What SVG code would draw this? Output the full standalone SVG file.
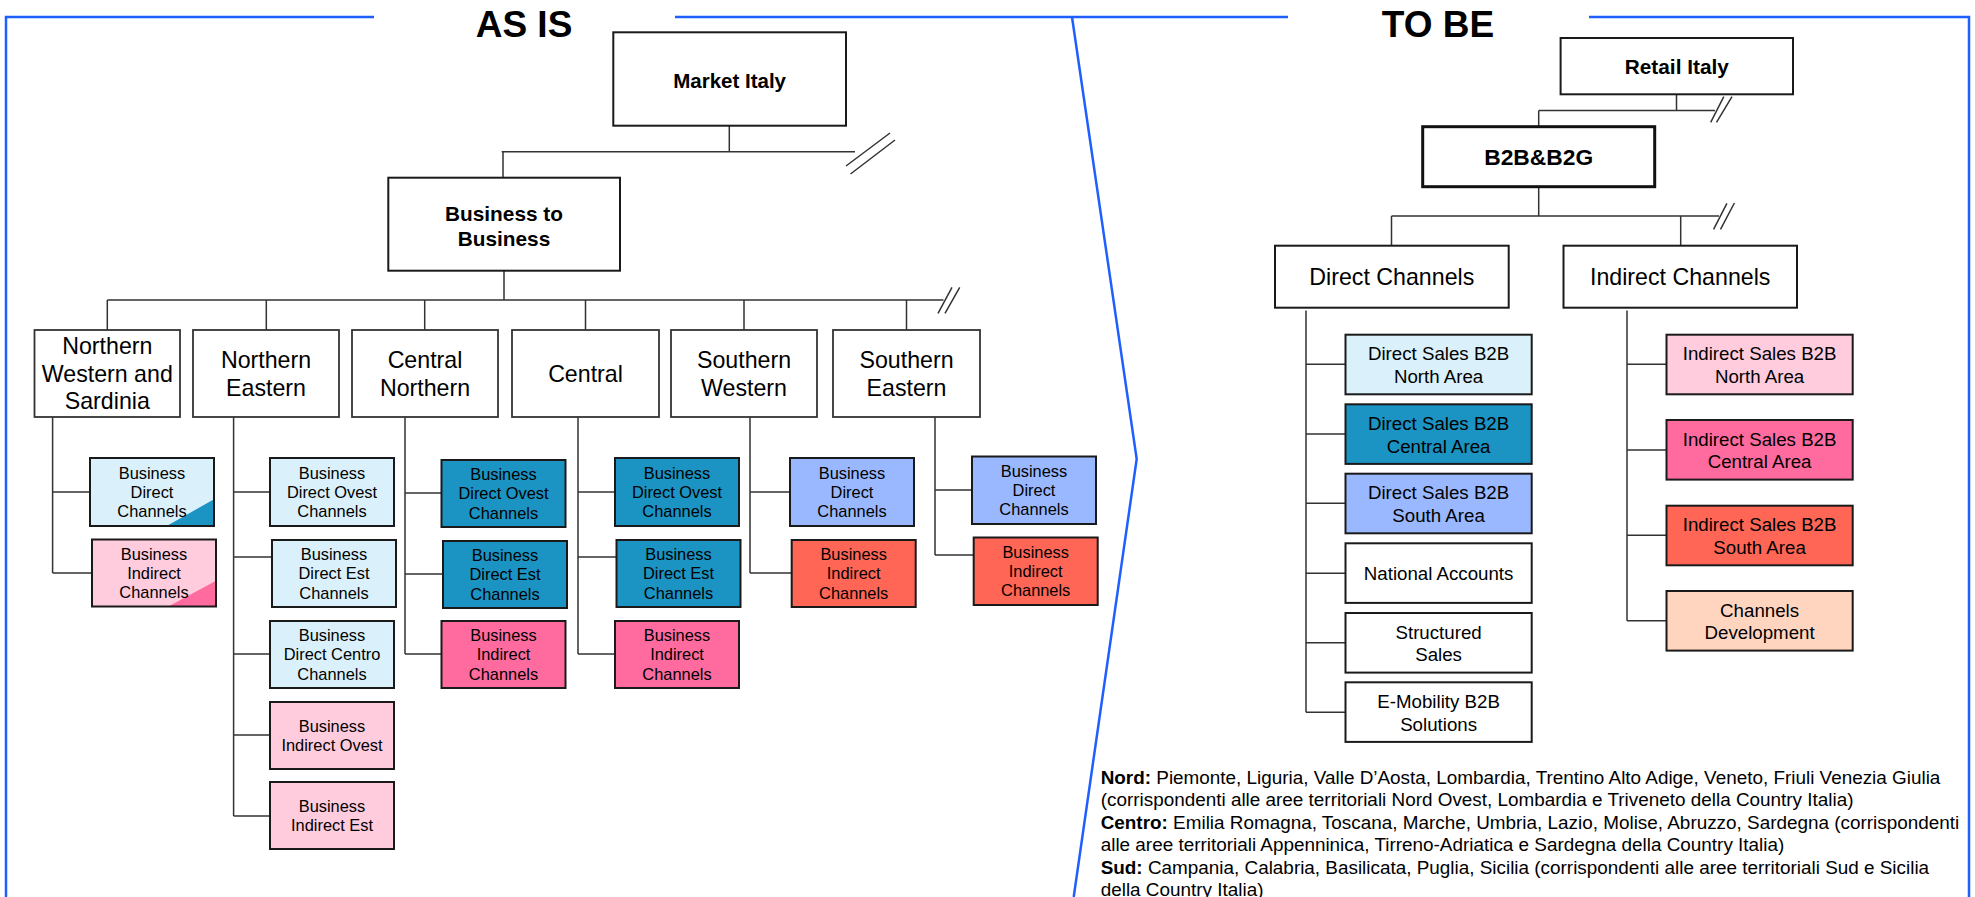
<svg xmlns="http://www.w3.org/2000/svg" width="1975" height="897" viewBox="0 0 1975 897">
<style>
.t{font-family:"Liberation Sans",Arial,sans-serif;fill:#000;text-anchor:middle}
.b{font-weight:bold}
.s16{font-size:16.4px}
.s23{font-size:23.2px}
.s19{font-size:18.7px}
.box{stroke:#1a1a1a;stroke-width:2}
.reg{fill:#fff;stroke:#333;stroke-width:1.8}
.conn{fill:none;stroke:#333;stroke-width:1.5}
.frame{fill:none;stroke:#1f5fff;stroke-width:2.5}
.lb{fill:#daf0fa}.tl{fill:#1b93c3}.lp{fill:#ffccdd}.hp{fill:#ff6b9e}.pw{fill:#99b8ff}.cr{fill:#ff6655}.pc{fill:#ffd5c0}.wh{fill:#fff}
.note{font-family:"Liberation Sans",Arial,sans-serif;font-size:18.9px;fill:#000}
</style>
<rect width="1975" height="897" fill="#fff"/>
<g id="frame" class="frame">
<path d="M374,17 H6 V897"/>
<path d="M675,17 H1288"/>
<path d="M1072,17 L1136.7,459 L1073.7,897"/>
<path d="M1589,17 H1969 V897"/>
</g>
<text class="t b" x="524" y="36.5" font-size="37">AS IS</text>
<text class="t b" x="1438" y="36.5" font-size="37">TO BE</text>
<g id="connectors" class="conn">
<path d="M729.3,125.7 V151.7 M501.7,151.7 H855 M503,151.7 V177.7"/>
<path d="M846,166 L890,133 M850.5,174 L895,140"/>
<path d="M504,270.7 V300 M107.3,300 H943.5"/>
<path d="M938,313.3 L952,287.3 M945,313.3 L959.7,287.3"/>
<path d="M107.3,300 V330 M266.3,300 V330 M424.7,300 V330 M585.5,300 V330 M744,300 V330 M906.5,300 V330"/>
<path d="M52.6,417 V573 M52.6,492 H90 M52.6,573 H92"/>
<path d="M233.6,417 V816 M233.6,492 H270 M233.6,557 H272 M233.6,654 H270 M233.6,735 H270 M233.6,816 H270"/>
<path d="M405,417 V654 M405,493 H441.5 M405,574 H443 M405,654 H441.5"/>
<path d="M578,417 V654 M578,492 H615 M578,557 H616.5 M578,654 H615"/>
<path d="M750,417 V573 M750,492 H790 M750,573 H791.7"/>
<path d="M935,417 V555 M935,490 H972 M935,555 H973.7"/>
<path d="M1676.5,94.3 V110.5 M1538.7,110.5 H1715 M1538.7,110.5 V126.7"/>
<path d="M1710.7,122.3 L1723.8,96.7 M1716.5,122.3 L1732,96.7"/>
<path d="M1538.7,186.7 V216 M1391.5,216 H1719 M1391.5,216 V245.7 M1680.7,216 V245.7"/>
<path d="M1713.6,229.3 L1726.9,203.3 M1720.5,229.3 L1734.4,203"/>
<path d="M1306,310.5 V712.3 M1306,364.3 H1345.5 M1306,434 H1345.5 M1306,503.3 H1345.5 M1306,573.3 H1345.5 M1306,642.7 H1345.5 M1306,712.3 H1345.5"/>
<path d="M1627,310.5 V620.7 M1627,364.3 H1666.5 M1627,450 H1666.5 M1627,535.3 H1666.5 M1627,620.7 H1666.5"/>
</g>
<g id="market-italy"><rect class="box wh" x="613.3" y="32.3" width="232.7" height="93.4"/><text class="t b" x="729.6" y="88" font-size="20.5">Market Italy</text></g>
<g id="b2b"><rect class="box wh" x="388.3" y="177.7" width="231.7" height="93"/><text class="t b" font-size="20.8"><tspan x="504" y="220.8">Business to</tspan><tspan x="504" y="245.8">Business</tspan></text></g>
<g id="r1"><rect class="reg" x="34.5" y="330" width="145.5" height="87"/><text class="t s23"><tspan x="107.3" y="354.1">Northern</tspan><tspan x="107.3" y="381.7">Western and</tspan><tspan x="107.3" y="409.3">Sardinia</tspan></text></g>
<g id="r2"><rect class="reg" x="193" y="330" width="146" height="87"/><text class="t s23"><tspan x="266" y="367.9">Northern</tspan><tspan x="266" y="395.5">Eastern</tspan></text></g>
<g id="r3"><rect class="reg" x="352" y="330" width="146" height="87"/><text class="t s23"><tspan x="425" y="367.9">Central</tspan><tspan x="425" y="395.5">Northern</tspan></text></g>
<g id="r4"><rect class="reg" x="512" y="330" width="147" height="87"/><text class="t s23" x="585.5" y="381.7">Central</text></g>
<g id="r5"><rect class="reg" x="671" y="330" width="146" height="87"/><text class="t s23"><tspan x="744" y="367.9">Southern</tspan><tspan x="744" y="395.5">Western</tspan></text></g>
<g id="r6"><rect class="reg" x="833" y="330" width="147" height="87"/><text class="t s23"><tspan x="906.5" y="367.9">Southern</tspan><tspan x="906.5" y="395.5">Eastern</tspan></text></g>
<g id="c1-direct"><rect class="lb" x="90" y="458" width="124" height="68"/><polygon class="tl" points="214,499.3 214,526 166.7,526"/><rect fill="none" class="box" x="90" y="458" width="124" height="68"/><text class="t s16"><tspan x="152" y="478.6">Business</tspan><tspan x="152" y="497.8">Direct</tspan><tspan x="152" y="517">Channels</tspan></text></g>
<g id="c1-indirect"><rect class="lp" x="92" y="539.5" width="124" height="67"/><polygon class="hp" points="216,580.7 216,606.5 168.3,606.5"/><rect fill="none" class="box" x="92" y="539.5" width="124" height="67"/><text class="t s16"><tspan x="154" y="559.6">Business</tspan><tspan x="154" y="578.8">Indirect</tspan><tspan x="154" y="598">Channels</tspan></text></g>
<g id="c2-dov"><rect class="box lb" x="270" y="458" width="124" height="68"/><text class="t s16"><tspan x="332" y="478.6">Business</tspan><tspan x="332" y="497.8">Direct Ovest</tspan><tspan x="332" y="517">Channels</tspan></text></g>
<g id="c2-dest"><rect class="box lb" x="272" y="540" width="124" height="67"/><text class="t s16"><tspan x="334" y="560.1">Business</tspan><tspan x="334" y="579.3">Direct Est</tspan><tspan x="334" y="598.5">Channels</tspan></text></g>
<g id="c2-dcen"><rect class="box lb" x="270" y="621" width="124" height="67"/><text class="t s16"><tspan x="332" y="641.1">Business</tspan><tspan x="332" y="660.3">Direct Centro</tspan><tspan x="332" y="679.5">Channels</tspan></text></g>
<g id="c2-iov"><rect class="box lp" x="270" y="702" width="124" height="67"/><text class="t s16"><tspan x="332" y="731.7">Business</tspan><tspan x="332" y="750.9">Indirect Ovest</tspan></text></g>
<g id="c2-iest"><rect class="box lp" x="270" y="782" width="124" height="67"/><text class="t s16"><tspan x="332" y="811.7">Business</tspan><tspan x="332" y="830.9">Indirect Est</tspan></text></g>
<g id="c3-dov"><rect class="box tl" x="441.5" y="460" width="124" height="67"/><text class="t s16"><tspan x="503.5" y="480.1">Business</tspan><tspan x="503.5" y="499.3">Direct Ovest</tspan><tspan x="503.5" y="518.5">Channels</tspan></text></g>
<g id="c3-dest"><rect class="box tl" x="443" y="541" width="124" height="67"/><text class="t s16"><tspan x="505" y="561.1">Business</tspan><tspan x="505" y="580.3">Direct Est</tspan><tspan x="505" y="599.5">Channels</tspan></text></g>
<g id="c3-ind"><rect class="box hp" x="441.5" y="621" width="124" height="67"/><text class="t s16"><tspan x="503.5" y="641.1">Business</tspan><tspan x="503.5" y="660.3">Indirect</tspan><tspan x="503.5" y="679.5">Channels</tspan></text></g>
<g id="c4-dov"><rect class="box tl" x="615" y="458" width="124" height="68"/><text class="t s16"><tspan x="677" y="478.6">Business</tspan><tspan x="677" y="497.8">Direct Ovest</tspan><tspan x="677" y="517">Channels</tspan></text></g>
<g id="c4-dest"><rect class="box tl" x="616.5" y="540" width="124" height="67"/><text class="t s16"><tspan x="678.5" y="560.1">Business</tspan><tspan x="678.5" y="579.3">Direct Est</tspan><tspan x="678.5" y="598.5">Channels</tspan></text></g>
<g id="c4-ind"><rect class="box hp" x="615" y="621" width="124" height="67"/><text class="t s16"><tspan x="677" y="641.1">Business</tspan><tspan x="677" y="660.3">Indirect</tspan><tspan x="677" y="679.5">Channels</tspan></text></g>
<g id="c5-dir"><rect class="box pw" x="790" y="458" width="124" height="68"/><text class="t s16"><tspan x="852" y="478.6">Business</tspan><tspan x="852" y="497.8">Direct</tspan><tspan x="852" y="517">Channels</tspan></text></g>
<g id="c5-ind"><rect class="box cr" x="791.7" y="540" width="124" height="67"/><text class="t s16"><tspan x="853.7" y="560.1">Business</tspan><tspan x="853.7" y="579.3">Indirect</tspan><tspan x="853.7" y="598.5">Channels</tspan></text></g>
<g id="c6-dir"><rect class="box pw" x="972" y="456.5" width="124" height="67.5"/><text class="t s16"><tspan x="1034" y="476.9">Business</tspan><tspan x="1034" y="496.1">Direct</tspan><tspan x="1034" y="515.3">Channels</tspan></text></g>
<g id="c6-ind"><rect class="box cr" x="973.7" y="537.5" width="124" height="67.5"/><text class="t s16"><tspan x="1035.7" y="557.9">Business</tspan><tspan x="1035.7" y="577.1">Indirect</tspan><tspan x="1035.7" y="596.3">Channels</tspan></text></g>
<g id="retail-italy"><rect class="box wh" x="1560.6" y="38" width="232.4" height="56.3"/><text class="t b" x="1676.8" y="73.8" font-size="20.8">Retail Italy</text></g>
<g id="b2b-b2g"><rect class="wh" stroke="#111" stroke-width="3" x="1422.7" y="126.7" width="232" height="60"/><text class="t b" x="1538.7" y="164.6" font-size="22.8">B2B&amp;B2G</text></g>
<g id="direct-channels"><rect class="box wh" x="1275" y="245.7" width="233.7" height="62"/><text class="t s23" x="1391.8" y="285">Direct Channels</text></g>
<g id="indirect-channels"><rect class="box wh" x="1563.5" y="245.7" width="233.5" height="62"/><text class="t s23" x="1680.2" y="285">Indirect Channels</text></g>
<g id="dsb-north"><rect class="box lb" x="1345.5" y="334.7" width="186.2" height="59.6"/><text class="t s19"><tspan x="1438.6" y="360.2">Direct Sales B2B</tspan><tspan x="1438.6" y="382.9">North Area</tspan></text></g>
<g id="dsb-central"><rect class="box tl" x="1345.5" y="404.3" width="186.2" height="59.6"/><text class="t s19"><tspan x="1438.6" y="429.8">Direct Sales B2B</tspan><tspan x="1438.6" y="452.5">Central Area</tspan></text></g>
<g id="dsb-south"><rect class="box pw" x="1345.5" y="473.7" width="186.2" height="59.6"/><text class="t s19"><tspan x="1438.6" y="499.2">Direct Sales B2B</tspan><tspan x="1438.6" y="521.9">South Area</tspan></text></g>
<g id="national-accounts"><rect class="box wh" x="1345.5" y="543.3" width="186.2" height="59.6"/><text class="t s19" x="1438.6" y="579.8">National Accounts</text></g>
<g id="structured-sales"><rect class="box wh" x="1345.5" y="613" width="186.2" height="59.6"/><text class="t s19"><tspan x="1438.6" y="638.5">Structured</tspan><tspan x="1438.6" y="661.2">Sales</tspan></text></g>
<g id="e-mobility"><rect class="box wh" x="1345.5" y="682.3" width="186.2" height="59.6"/><text class="t s19"><tspan x="1438.6" y="707.8">E-Mobility B2B</tspan><tspan x="1438.6" y="730.5">Solutions</tspan></text></g>
<g id="isb-north"><rect class="box lp" x="1666.5" y="334.7" width="186.2" height="59.6"/><text class="t s19"><tspan x="1759.6" y="360.2">Indirect Sales B2B</tspan><tspan x="1759.6" y="382.9">North Area</tspan></text></g>
<g id="isb-central"><rect class="box hp" x="1666.5" y="420" width="186.2" height="59.6"/><text class="t s19"><tspan x="1759.6" y="445.5">Indirect Sales B2B</tspan><tspan x="1759.6" y="468.2">Central Area</tspan></text></g>
<g id="isb-south"><rect class="box cr" x="1666.5" y="505.7" width="186.2" height="59.6"/><text class="t s19"><tspan x="1759.6" y="531.2">Indirect Sales B2B</tspan><tspan x="1759.6" y="553.9">South Area</tspan></text></g>
<g id="channels-dev"><rect class="box pc" x="1666.5" y="591" width="186.2" height="59.6"/><text class="t s19"><tspan x="1759.6" y="616.5">Channels</tspan><tspan x="1759.6" y="639.2">Development</tspan></text></g>
<g id="notes" class="note">
<text x="1100.7" y="784"><tspan font-weight="bold">Nord:</tspan> Piemonte, Liguria, Valle D’Aosta, Lombardia, Trentino Alto Adige, Veneto, Friuli Venezia Giulia</text>
<text x="1100.7" y="806.4">(corrispondenti alle aree territoriali Nord Ovest, Lombardia e Triveneto della Country Italia)</text>
<text x="1100.7" y="828.8"><tspan font-weight="bold">Centro:</tspan> Emilia Romagna, Toscana, Marche, Umbria, Lazio, Molise, Abruzzo, Sardegna (corrispondenti</text>
<text x="1100.7" y="851.2">alle aree territoriali Appenninica, Tirreno-Adriatica e Sardegna della Country Italia)</text>
<text x="1100.7" y="873.6"><tspan font-weight="bold">Sud:</tspan> Campania, Calabria, Basilicata, Puglia, Sicilia (corrispondenti alle aree territoriali Sud e Sicilia</text>
<text x="1100.7" y="896">della Country Italia)</text>
</g>
</svg>
